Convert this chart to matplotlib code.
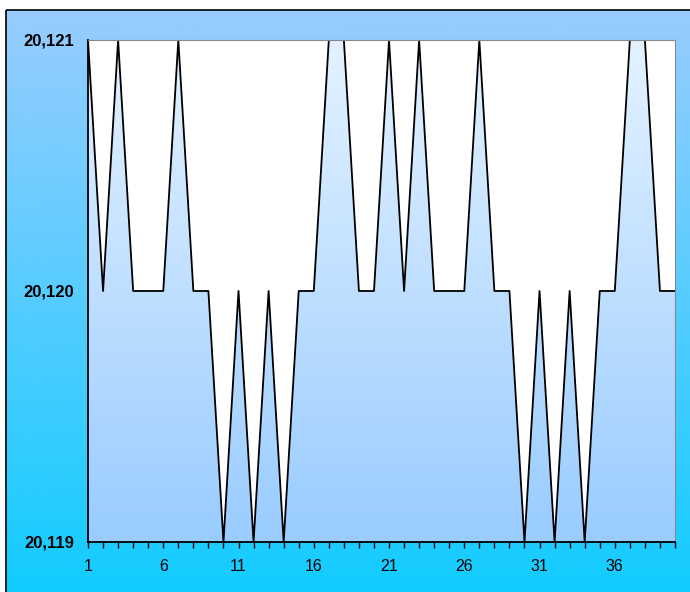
import numpy as np
import matplotlib.pyplot as plt
from matplotlib.colors import LinearSegmentedColormap
from matplotlib.patches import Rectangle
from matplotlib.ticker import FixedLocator, FuncFormatter

plt.rcParams['font.family'] = ['Liberation Sans', 'DejaVu Sans']

# readings per sample
samples = list(range(1, 41))
values = [20.121, 20.120, 20.121, 20.120, 20.120, 20.120, 20.121, 20.120, 20.120, 20.119,
          20.120, 20.119, 20.120, 20.119, 20.120, 20.120, 20.121, 20.121, 20.120, 20.120,
          20.121, 20.120, 20.121, 20.120, 20.120, 20.120, 20.121, 20.120, 20.120, 20.119,
          20.120, 20.119, 20.120, 20.119, 20.120, 20.120, 20.121, 20.121, 20.120, 20.120]
y_ticks = [20.119, 20.120, 20.121]
x_ticks = [1, 6, 11, 16, 21, 26, 31, 36]

W, H = 690, 592
fig = plt.figure(figsize=(W / 100, H / 100), dpi=100)
fig.patch.set_facecolor('white')

# outer panel with vertical gradient
bg = fig.add_axes([0, 0, 1, 1])
bg.set_xlim(0, W)
bg.set_ylim(H, 0)
bg.axis('off')
bg_cmap = LinearSegmentedColormap.from_list('bg', ['#99ccff', '#11ccff'])
grad = np.linspace(0, 1, 256).reshape(-1, 1)
bg.imshow(grad, cmap=bg_cmap, extent=[6, W + 5, H + 5, 10], aspect='auto', zorder=0)
bg.add_patch(Rectangle((6, 10), W, H, fill=False, edgecolor='black', linewidth=1.2, zorder=2))

left, top, right, bottom = 88, 40, 675, 542
ax = fig.add_axes([left / W, 1 - bottom / H, (right - left) / W, (bottom - top) / H])
ax.set_facecolor('white')
ax.set_xlim(1, 40)
ax.set_ylim(20.119, 20.121)

# gradient area under the line
area_cmap = LinearSegmentedColormap.from_list('area', ['#e4f2ff', '#99ccff'])
img = ax.imshow(grad, cmap=area_cmap, extent=[1, 40, 20.119, 20.121],
                aspect='auto', origin='upper', zorder=1)
poly = ax.fill_between(samples, values, 20.119, facecolor='none', edgecolor='none')
clip = poly.get_paths()[0]
img.set_clip_path(clip, transform=ax.transData)
ax.plot(samples, values, color='black', linewidth=1.3, zorder=3)

ax.spines['top'].set_color('#888888')
ax.spines['right'].set_color('#888888')
ax.spines['left'].set_linewidth(1.3)
ax.spines['bottom'].set_linewidth(1.3)
for s in ax.spines.values():
    s.set_zorder(4)

ax.yaxis.set_major_locator(FixedLocator(y_ticks))
ax.yaxis.set_major_formatter(FuncFormatter(lambda v, p: f'{v:.3f}'.replace('.', ',')))
ax.tick_params(axis='y', length=0, pad=10, labelsize=12)
for lbl in ax.get_yticklabels():
    lbl.set_fontweight('bold')

ax.xaxis.set_major_locator(FixedLocator(x_ticks))
ax.xaxis.set_minor_locator(FixedLocator(samples))
ax.tick_params(axis='x', which='both', direction='out', length=4, width=1, labelsize=11.5, pad=8)

fig.savefig('out.png', dpi=100)
